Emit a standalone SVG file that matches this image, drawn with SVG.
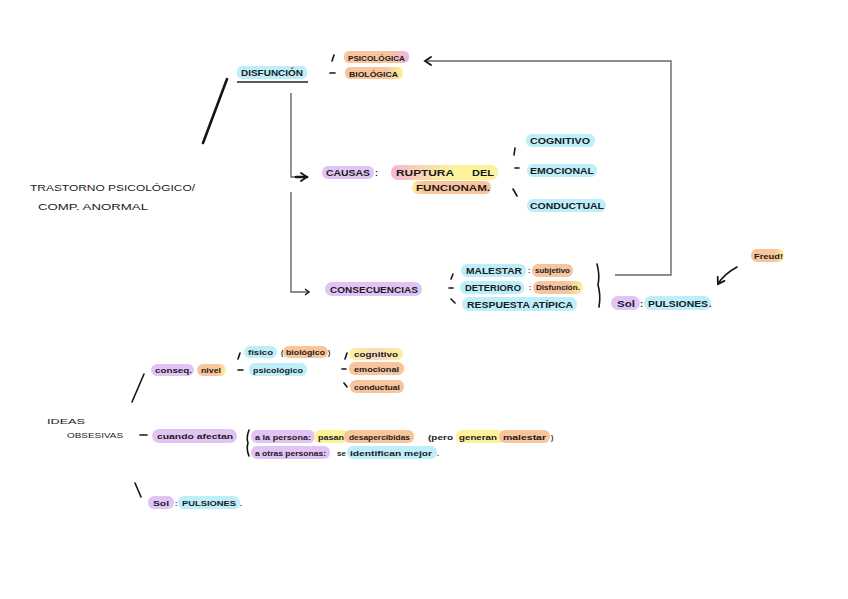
<svg xmlns="http://www.w3.org/2000/svg" width="848" height="599" viewBox="0 0 848 599">
<style>
.t{font-family:"Liberation Sans",Arial,sans-serif;font-size:9px;font-weight:bold;fill:#1b1b1b;}
.n{font-weight:normal;}
.s{font-size:7px;}
.m{font-size:8px;}
.hb{fill:#bdeefa;}
.hp{fill:#e2c3f6;}
.ho{fill:#f8c49c;}
.hy{fill:#fbf29a;}
.ink{stroke:#151515;stroke-width:1.6;stroke-linecap:round;fill:none;}
.bold{stroke:#151515;stroke-width:2.6;stroke-linecap:round;fill:none;}
.gr{stroke:#666;stroke-width:1.4;fill:none;}
</style>
<defs>
<linearGradient id="gop" x1="0" x2="1"><stop offset="0.7" stop-color="#f8c49c"/><stop offset="1" stop-color="#efb4e0"/></linearGradient>
<linearGradient id="goy" x1="0" x2="1"><stop offset="0.7" stop-color="#f8c49c"/><stop offset="1" stop-color="#fbf29a"/></linearGradient>
<linearGradient id="gpy" x1="0" x2="1"><stop offset="0" stop-color="#f6b5cf"/><stop offset="0.55" stop-color="#fbf29a"/><stop offset="1" stop-color="#fbf29a"/></linearGradient>
<linearGradient id="gyo" x1="0" x2="1"><stop offset="0" stop-color="#fbf29a"/><stop offset="0.15" stop-color="#f8c49c"/><stop offset="1" stop-color="#f8c49c"/></linearGradient>
<linearGradient id="gyp" x1="0" x2="1"><stop offset="0" stop-color="#fbf29a"/><stop offset="0.5" stop-color="#f9d8c0"/><stop offset="1" stop-color="#fbf29a"/></linearGradient>
<marker id="ah" markerWidth="10" markerHeight="10" refX="7" refY="5" orient="auto" markerUnits="userSpaceOnUse">
<path d="M1,1 L7,5 L1,9" fill="none" stroke="#151515" stroke-width="1.8" stroke-linecap="round"/>
</marker>
<marker id="ahs" markerWidth="8" markerHeight="8" refX="5" refY="4" orient="auto" markerUnits="userSpaceOnUse">
<path d="M1,1 L5,4 L1,7" fill="none" stroke="#151515" stroke-width="1.4"/>
</marker>
</defs>

<g id="connectors">
<line class="bold" x1="203" y1="143" x2="227" y2="79"/>
<line class="ink" x1="332" y1="61" x2="334" y2="55"/>
<line class="ink" x1="330" y1="73" x2="335" y2="73"/>
<path class="gr" d="M291,93 V177 H304" />
<path class="bold" d="M296,177 H307" marker-end="url(#ah)"/>
<path class="gr" d="M291,192 V292 H309" marker-end="url(#ahs)"/>
<line class="ink" x1="514" y1="155" x2="515" y2="148"/>
<line class="ink" x1="515" y1="168" x2="519" y2="168"/>
<line class="ink" x1="513" y1="189" x2="517" y2="196"/>
<line class="ink" x1="451" y1="279" x2="453" y2="274"/>
<line class="ink" x1="449" y1="288" x2="453" y2="288"/>
<line class="ink" x1="451" y1="299" x2="455" y2="303"/>
<path class="ink" stroke-width="2" d="M597,264 Q600,275 598,285 Q601,295 599,307"/>
<path class="gr" d="M615,275 H671 V61 H425" marker-end="url(#ah)"/>
<path class="ink" d="M737,267 Q724,274 718,284" marker-end="url(#ah)"/>
<line class="ink" x1="132" y1="402" x2="144" y2="374"/>
<line class="ink" x1="238" y1="359" x2="240" y2="353"/>
<line class="ink" x1="238" y1="370" x2="243" y2="370"/>
<line class="ink" x1="345" y1="359" x2="347" y2="353"/>
<line class="ink" x1="342" y1="369" x2="346" y2="369"/>
<line class="ink" x1="344" y1="383" x2="347" y2="387"/>
<line class="ink" x1="140" y1="435" x2="147" y2="435"/>
<path class="ink" d="M249,430 Q246,438 248,443 Q246,449 249,456"/>
<line class="ink" x1="135" y1="483" x2="141" y2="497"/>
</g>

<g id="root">
<text class="t n" x="30" y="191" textLength="165" lengthAdjust="spacingAndGlyphs">TRASTORNO PSICOLÓGICO/</text>
<text class="t n" x="38" y="210" textLength="110" lengthAdjust="spacingAndGlyphs">COMP. ANORMAL</text>
</g>

<g id="disfuncion">
<rect class="hb" x="237" y="66" width="70" height="13" rx="5"/>
<text class="t" x="241" y="76" textLength="62" lengthAdjust="spacingAndGlyphs">DISFUNCIÓN</text>
<line x1="237" y1="82" x2="308" y2="82" stroke="#222" stroke-width="1.3"/>
</g>
<g id="psicologica">
<rect x="344" y="51" width="65" height="12" rx="5" fill="url(#gop)"/>
<text class="t m" x="348" y="60.5" textLength="57" lengthAdjust="spacingAndGlyphs">PSICOLÓGICA</text>
</g>
<g id="biologica">
<rect x="345" y="67" width="58" height="12" rx="5" fill="url(#goy)"/>
<text class="t m" x="349" y="76.5" textLength="49" lengthAdjust="spacingAndGlyphs">BIOLÓGICA</text>
</g>

<g id="causas">
<rect class="hp" x="322" y="166" width="52" height="13" rx="6"/>
<text class="t" x="326" y="176" textLength="44" lengthAdjust="spacingAndGlyphs">CAUSAS</text>
<text class="t" x="375" y="176">:</text>
</g>
<g id="ruptura">
<rect x="391" y="165" width="107" height="15" rx="7" fill="url(#gpy)"/>
<text class="t" x="396" y="176" textLength="58" lengthAdjust="spacingAndGlyphs">RUPTURA</text>
<text class="t" x="472" y="176" textLength="22" lengthAdjust="spacingAndGlyphs">DEL</text>
<rect x="412" y="181" width="79" height="13" rx="6" fill="url(#gyo)"/>
<text class="t" x="416" y="191" textLength="74" lengthAdjust="spacingAndGlyphs">FUNCIONAM.</text>
</g>
<g id="cognitivo">
<rect class="hb" x="526" y="134" width="69" height="13" rx="6"/>
<text class="t" x="530" y="144" textLength="60" lengthAdjust="spacingAndGlyphs">COGNITIVO</text>
</g>
<g id="emocional">
<rect class="hb" x="527" y="164" width="70" height="13" rx="6"/>
<text class="t" x="530" y="174" textLength="64" lengthAdjust="spacingAndGlyphs">EMOCIONAL</text>
</g>
<g id="conductual">
<rect class="hb" x="527" y="199" width="79" height="13" rx="6"/>
<text class="t" x="530" y="209" textLength="74" lengthAdjust="spacingAndGlyphs">CONDUCTUAL</text>
</g>

<g id="consecuencias">
<rect class="hp" x="325" y="282" width="97" height="14" rx="7"/>
<text class="t" x="330" y="293" textLength="88" lengthAdjust="spacingAndGlyphs">CONSECUENCIAS</text>
</g>
<g id="malestar">
<rect class="hb" x="461" y="264" width="65" height="13" rx="6"/>
<text class="t" x="466" y="274" textLength="56" lengthAdjust="spacingAndGlyphs">MALESTAR</text>
<text class="t s" x="528" y="273">:</text>
<rect class="ho" x="532" y="264" width="41" height="13" rx="6"/>
<text class="t s" x="535" y="273" textLength="35" lengthAdjust="spacingAndGlyphs">subjetivo</text>
</g>
<g id="deterioro">
<rect class="hb" x="460" y="281" width="64" height="13" rx="6"/>
<text class="t" x="465" y="291" textLength="56" lengthAdjust="spacingAndGlyphs">DETERIORO</text>
<text class="t s" x="529" y="290">:</text>
<rect x="533" y="281" width="50" height="13" rx="6" fill="url(#goy)"/>
<text class="t s" x="536" y="290" textLength="44" lengthAdjust="spacingAndGlyphs">Disfunción.</text>
</g>
<g id="respuesta">
<rect class="hb" x="462" y="297" width="115" height="14" rx="7"/>
<text class="t" x="467" y="308" textLength="106" lengthAdjust="spacingAndGlyphs">RESPUESTA ATÍPICA</text>
</g>
<g id="sol1">
<rect class="hp" x="611" y="296" width="29" height="14" rx="7"/>
<text class="t" x="617" y="307" textLength="18" lengthAdjust="spacingAndGlyphs">Sol</text>
<text class="t" x="640" y="307">:</text>
<rect class="hb" x="644" y="296" width="67" height="14" rx="7"/>
<text class="t" x="648" y="307" textLength="60" lengthAdjust="spacingAndGlyphs">PULSIONES</text>
<text class="t" x="709" y="307">.</text>
</g>
<g id="freud">
<rect x="751" y="249" width="33" height="13" rx="6" fill="url(#goy)"/>
<text class="t m" x="754" y="259" textLength="29" lengthAdjust="spacingAndGlyphs">Freud!</text>
</g>

<g id="conseq">
<rect class="hp" x="151" y="364" width="43" height="12" rx="6"/>
<text class="t s" x="155" y="373" textLength="37" lengthAdjust="spacingAndGlyphs">conseq.</text>
<rect x="197" y="364" width="29" height="12" rx="6" fill="url(#goy)"/>
<text class="t s" x="201" y="373" textLength="20" lengthAdjust="spacingAndGlyphs">nivel</text>
</g>
<g id="fisico">
<rect class="hb" x="244" y="346" width="33" height="12" rx="6"/>
<text class="t s" x="248" y="355" textLength="25" lengthAdjust="spacingAndGlyphs">físico</text>
<text class="t s" x="281" y="355">(</text>
<rect class="ho" x="283" y="346" width="45" height="12" rx="6"/>
<text class="t s" x="286" y="355" textLength="39" lengthAdjust="spacingAndGlyphs">biológico</text>
<text class="t s" x="328" y="355">)</text>
</g>
<g id="psicologico">
<rect class="hb" x="249" y="363" width="58" height="13" rx="6"/>
<text class="t s" x="253" y="372.5" textLength="50" lengthAdjust="spacingAndGlyphs">psicológico</text>
</g>
<g id="cognitivo2">
<rect x="349" y="348" width="54" height="12" rx="6" fill="url(#gyp)"/>
<text class="t s" x="354" y="357" textLength="44" lengthAdjust="spacingAndGlyphs">cognitivo</text>
</g>
<g id="emocional2">
<rect class="ho" x="349" y="362" width="55" height="13" rx="6"/>
<text class="t s" x="354" y="371.5" textLength="45" lengthAdjust="spacingAndGlyphs">emocional</text>
</g>
<g id="conductual2">
<rect class="ho" x="350" y="380" width="54" height="13" rx="6"/>
<text class="t s" x="354" y="389.5" textLength="46" lengthAdjust="spacingAndGlyphs">conductual</text>
</g>

<g id="ideas">
<text class="t s n" x="47" y="424" textLength="38" lengthAdjust="spacingAndGlyphs">IDEAS</text>
<text class="t s n" x="67" y="438" textLength="56" lengthAdjust="spacingAndGlyphs">OBSESIVAS</text>
</g>
<g id="cuando">
<rect class="hp" x="152" y="429" width="85" height="14" rx="7"/>
<text class="t s" x="157" y="439" textLength="76" lengthAdjust="spacingAndGlyphs">cuando afectan</text>
</g>
<g id="persona">
<rect class="hp" x="251" y="430" width="64" height="13" rx="6"/>
<text class="t s" x="255" y="439.5" textLength="56" lengthAdjust="spacingAndGlyphs">a la persona:</text>
<rect class="hy" x="314" y="430" width="34" height="13" rx="6"/>
<rect class="ho" x="344" y="430" width="70" height="13" rx="6"/>
<text class="t s" x="318" y="439.5" textLength="26" lengthAdjust="spacingAndGlyphs">pasan</text>
<text class="t s" x="349" y="439.5" textLength="61" lengthAdjust="spacingAndGlyphs">desapercibidas</text>
<text class="t s" x="428" y="439.5" textLength="25" lengthAdjust="spacingAndGlyphs">(pero</text>
<rect class="hy" x="456" y="430" width="48" height="13" rx="6"/>
<rect class="ho" x="499" y="430" width="51" height="13" rx="6"/>
<text class="t s" x="459" y="439.5" textLength="38" lengthAdjust="spacingAndGlyphs">generan</text>
<text class="t s" x="503" y="439.5" textLength="43" lengthAdjust="spacingAndGlyphs">malestar</text>
<text class="t s" x="551" y="439.5">)</text>
</g>
<g id="otras">
<rect class="hp" x="251" y="446" width="79" height="13" rx="6"/>
<text class="t s" x="255" y="455.5" textLength="71" lengthAdjust="spacingAndGlyphs">a otras personas:</text>
<text class="t s" x="337" y="455.5" textLength="9" lengthAdjust="spacingAndGlyphs">se</text>
<rect class="hb" x="347" y="446" width="90" height="13" rx="6"/>
<text class="t s" x="350" y="455.5" textLength="82" lengthAdjust="spacingAndGlyphs">identifican mejor</text>
<text class="t s" x="437" y="455.5">.</text>
</g>
<g id="sol2">
<rect class="hp" x="148" y="496" width="26" height="13" rx="6"/>
<text class="t s" x="153" y="505.5" textLength="16" lengthAdjust="spacingAndGlyphs">Sol</text>
<text class="t s" x="175" y="505.5">:</text>
<rect class="hb" x="178" y="496" width="62" height="13" rx="6"/>
<text class="t s" x="182" y="505.5" textLength="54" lengthAdjust="spacingAndGlyphs">PULSIONES</text>
<text class="t s" x="240" y="505.5">.</text>
</g>
</svg>
